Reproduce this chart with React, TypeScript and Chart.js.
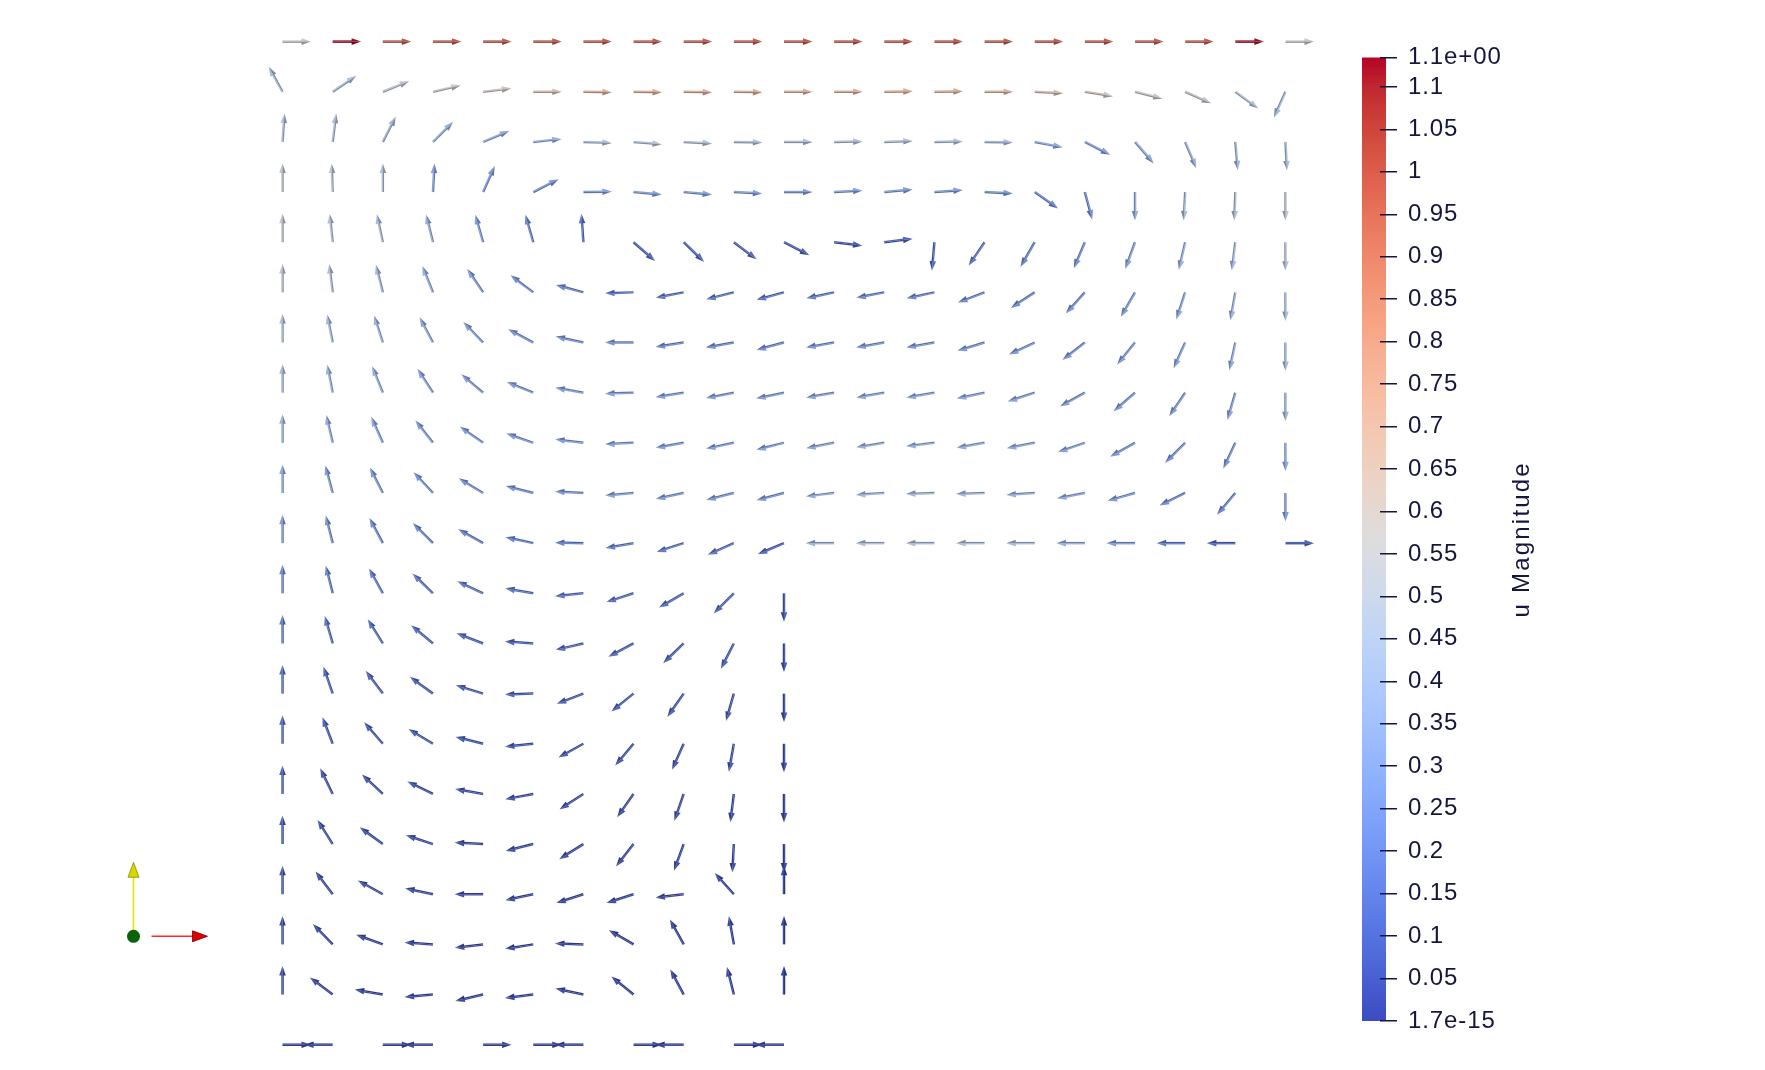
import React, { useEffect, useRef } from "react";
import { Chart, registerables } from "chart.js";

Chart.register(...registerables);

// ---- grid coordinates (physical) ----
const gridX = [0.0, 0.1, 0.2, 0.3, 0.4, 0.5, 0.6, 0.7, 0.8, 0.9, 1.0, 1.1, 1.2, 1.3, 1.4, 1.5, 1.6, 1.7, 1.8, 1.9, 2.0];
const gridY = [2.0, 1.9, 1.8, 1.7, 1.6, 1.5, 1.4, 1.3, 1.2, 1.1, 1.0, 0.9, 0.8, 0.7, 0.6, 0.5, 0.4, 0.3, 0.2, 0.1, 0.0];

// ---- glyph directions (degrees, counter-clockwise from +x), one list per grid row (top to bottom) ----
const angleRows: number[][] = [
  [0, 0, 0, 0, 0, 0, 0, 0, 0, 0, 0, 0, 0, 0, 0, 0, 0, 0, 0, 0, 0],
  [119, 34, 22, 13, 7, 0, -1, -1, -1, -1, 0, 0, 1, 1, 0, -3, -9, -14, -24, -36, 246],
  [86, 83, 63, 45, 23, 6, -2, -5, -3, -1, 0, 1, 2, 1, -1, -11, -27, -49, -67, -85, -87],
  [90, 92, 90, 87, 66, 27, 1, -5, -5, -3, 0, 3, 5, 4, -3, -35, -75, -90, -93, -92, -90],
  [90, 96, 102, 104, 106, 106, 94, -41, -44, -37, -27, -7, 7, 265, 236, 240, 247, 250, 257, 263, 270],
  [90, 97, 104, 112, 124, 143, 165, 182, 191, 194, 195, 192, 191, 192, 201, 213, 228, 240, 252, 260, 270],
  [90, 101, 108, 118, 134, 152, 168, 180, 189, 190, 195, 190, 190, 190, 197, 205, 218, 231, 246, 258, 270],
  [90, 101, 112, 123, 140, 158, 170, 182, 189, 191, 192, 190, 190, 190, 192, 198, 209, 221, 236, 254, 270],
  [90, 103, 114, 128, 145, 161, 173, 183, 190, 192, 194, 191, 189, 187, 190, 191, 199, 209, 225, 245, 270],
  [90, 105, 117, 133, 149, 166, 177, 185, 192, 194, 195, 187, 184, 182, 182, 184, 191, 196, 206, 230, 270],
  [90, 104, 118, 135, 151, 168, 179, 190, 198, 204, 203, 180, 180, 180, 180, 180, 180, 180, 180, 180, 0],
  [90, 104, 119, 136, 155, 170, 186, 198, 210, 225, 270],
  [90, 106, 122, 140, 159, 176, 193, 208, 224, 243, 270],
  [90, 109, 127, 144, 163, 182, 201, 219, 235, 254, 270],
  [90, 111, 131, 149, 166, 186, 209, 230, 246, 260, 270],
  [90, 116, 137, 154, 170, 191, 213, 235, 251, 263, 270],
  [90, 122, 144, 162, 177, 194, 212, 232, 250, 267, 270],
  [90, 127, 151, 168, 180, 192, 198, 198, 187, 132, 90],
  [90, 134, 160, 176, 187, 189, 178, 150, 119, 100, 90],
  [90, 143, 170, 185, 193, 187, 168, 141, 118, 104, 90],
  [0, 180, 0, 180, 0, 0, 180, 0, 180, 0, 180],
];

// ---- |u| at each grid point, same layout ----
const magnitudeRows: number[][] = [
  [0.55, 1.13, 1.0, 1.0, 1.0, 1.0, 1.0, 1.0, 1.0, 1.0, 1.0, 1.0, 1.0, 1.0, 1.0, 1.0, 1.0, 1.0, 1.0, 1.13, 0.55],
  [0.42, 0.45, 0.52, 0.56, 0.6, 0.65, 0.72, 0.72, 0.72, 0.72, 0.72, 0.72, 0.72, 0.72, 0.7, 0.65, 0.6, 0.57, 0.53, 0.48, 0.42],
  [0.45, 0.45, 0.4, 0.36, 0.34, 0.36, 0.44, 0.46, 0.46, 0.46, 0.46, 0.46, 0.46, 0.45, 0.42, 0.32, 0.28, 0.33, 0.37, 0.4, 0.44],
  [0.52, 0.5, 0.46, 0.3, 0.26, 0.25, 0.28, 0.28, 0.28, 0.28, 0.28, 0.28, 0.28, 0.27, 0.25, 0.2, 0.22, 0.36, 0.42, 0.46, 0.5],
  [0.52, 0.48, 0.44, 0.36, 0.28, 0.2, 0.14, 0.1, 0.1, 0.1, 0.08, 0.06, 0.08, 0.1, 0.16, 0.2, 0.24, 0.3, 0.36, 0.42, 0.48],
  [0.5, 0.46, 0.4, 0.35, 0.28, 0.24, 0.2, 0.16, 0.15, 0.15, 0.15, 0.18, 0.2, 0.2, 0.22, 0.22, 0.24, 0.28, 0.32, 0.38, 0.45],
  [0.46, 0.42, 0.38, 0.33, 0.28, 0.25, 0.25, 0.24, 0.22, 0.22, 0.22, 0.25, 0.26, 0.26, 0.26, 0.25, 0.25, 0.27, 0.3, 0.35, 0.42],
  [0.42, 0.38, 0.35, 0.3, 0.28, 0.27, 0.28, 0.29, 0.28, 0.28, 0.28, 0.3, 0.32, 0.32, 0.32, 0.3, 0.28, 0.27, 0.27, 0.3, 0.38],
  [0.38, 0.34, 0.3, 0.28, 0.27, 0.27, 0.28, 0.3, 0.28, 0.28, 0.28, 0.33, 0.36, 0.36, 0.35, 0.33, 0.3, 0.26, 0.24, 0.25, 0.33],
  [0.32, 0.28, 0.26, 0.25, 0.24, 0.24, 0.26, 0.3, 0.27, 0.26, 0.25, 0.35, 0.4, 0.42, 0.4, 0.36, 0.32, 0.27, 0.22, 0.2, 0.27],
  [0.27, 0.24, 0.22, 0.21, 0.2, 0.19, 0.19, 0.18, 0.16, 0.14, 0.1, 0.4, 0.45, 0.45, 0.45, 0.43, 0.35, 0.27, 0.17, 0.1, 0.08],
  [0.2, 0.18, 0.17, 0.16, 0.15, 0.14, 0.14, 0.13, 0.12, 0.1, 0.08],
  [0.16, 0.14, 0.13, 0.12, 0.11, 0.1, 0.1, 0.1, 0.09, 0.08, 0.06],
  [0.12, 0.1, 0.1, 0.09, 0.08, 0.08, 0.08, 0.08, 0.07, 0.06, 0.05],
  [0.1, 0.08, 0.07, 0.07, 0.06, 0.06, 0.06, 0.06, 0.05, 0.05, 0.04],
  [0.08, 0.06, 0.05, 0.05, 0.05, 0.04, 0.04, 0.04, 0.04, 0.03, 0.03],
  [0.06, 0.05, 0.04, 0.04, 0.03, 0.03, 0.03, 0.03, 0.03, 0.02, 0.02],
  [0.05, 0.04, 0.03, 0.03, 0.02, 0.02, 0.02, 0.02, 0.02, 0.01, 0.01],
  [0.04, 0.03, 0.02, 0.02, 0.02, 0.01, 0.01, 0.01, 0.01, 0.01, 0.01],
  [0.03, 0.02, 0.01, 0.01, 0.01, 0.01, 0.01, 0.01, 0.01, 0.01, 0.01],
  [0, 0, 0, 0, 0, 0, 0, 0, 0, 0, 0],
];

// ---- colour bar ----
const colorbarMin = 0;
const colorbarMax = 1.1346;
const colorbarTitle = "u Magnitude";
const colorbarTicks = [0, 0.05, 0.1, 0.15, 0.2, 0.25, 0.3, 0.35, 0.4, 0.45, 0.5, 0.55, 0.6, 0.65, 0.7, 0.75, 0.8, 0.85, 0.9, 0.95, 1.0, 1.05, 1.1, 1.1346];
const colorbarLabels = ["1.7e-15", "0.05", "0.1", "0.15", "0.2", "0.25", "0.3", "0.35", "0.4", "0.45", "0.5", "0.55", "0.6", "0.65", "0.7", "0.75", "0.8", "0.85", "0.9", "0.95", "1", "1.05", "1.1", "1.1e+00"];

// Cool to Warm (Moreland) colour map, 33 samples
const coolWarm: number[][] = [
  [59, 76, 192], [68, 90, 204], [77, 104, 215], [87, 117, 225], [98, 130, 234], [108, 142, 241], [119, 154, 247], [130, 165, 251],
  [141, 176, 254], [152, 185, 255], [163, 194, 255], [174, 201, 253], [184, 208, 249], [194, 213, 244], [204, 217, 238], [213, 219, 230],
  [221, 221, 221], [229, 216, 209], [236, 211, 197], [241, 204, 185], [245, 196, 173], [247, 187, 160], [247, 177, 148], [247, 166, 135],
  [244, 154, 123], [241, 141, 111], [236, 127, 99], [229, 112, 88], [222, 96, 77], [213, 80, 66], [203, 62, 56], [192, 40, 47], [180, 4, 38],
];

const TEXT_COLOR = "#15153d";

function mapColor(v: number): number[] {
  let t = (v - colorbarMin) / (colorbarMax - colorbarMin);
  t = Math.max(0, Math.min(1, t));
  const f = t * (coolWarm.length - 1);
  const i = Math.min(coolWarm.length - 2, Math.floor(f));
  const r = f - i;
  const a = coolWarm[i];
  const b = coolWarm[i + 1];
  return [a[0] + (b[0] - a[0]) * r, a[1] + (b[1] - a[1]) * r, a[2] + (b[2] - a[2]) * r];
}

// shaded colour: scale towards black and slightly towards grey (3D lighting look)
function shade(c: number[], k: number, desat: number): string {
  const g = (c[0] + c[1] + c[2]) / 3;
  const r = (c[0] * (1 - desat) + g * desat) * k;
  const gg = (c[1] * (1 - desat) + g * desat) * k;
  const b = (c[2] * (1 - desat) + g * desat) * k;
  return `rgb(${Math.round(r)},${Math.round(gg)},${Math.round(b)})`;
}

function rgbCss(c: number[]): string {
  return `rgb(${Math.round(c[0])},${Math.round(c[1])},${Math.round(c[2])})`;
}

type GlyphPoint = { x: number; y: number; angle: number; mag: number };

const glyphPoints: GlyphPoint[] = [];
angleRows.forEach((row, j) => {
  row.forEach((a, i) => {
    glyphPoints.push({ x: gridX[i], y: gridY[j], angle: a, mag: magnitudeRows[j][i] });
  });
});

function drawArrow(ctx: CanvasRenderingContext2D, x: number, y: number, angleDeg: number, rgb: number[]) {
  const L = 28.5;
  const hl = 9.5;
  const hw = 3.3;
  const sw = 1.25;
  ctx.save();
  ctx.translate(x, y);
  ctx.rotate((-angleDeg * Math.PI) / 180);
  const light = shade(rgb, 0.9, 0.1);
  const dark = shade(rgb, 0.66, 0.1);
  ctx.fillStyle = light;
  ctx.fillRect(0, -sw, L - hl + 0.5, sw);
  ctx.fillStyle = dark;
  ctx.fillRect(0, 0, L - hl + 0.5, sw);
  ctx.beginPath();
  ctx.moveTo(L, 0);
  ctx.lineTo(L - hl, -hw);
  ctx.lineTo(L - hl, 0);
  ctx.closePath();
  ctx.fillStyle = light;
  ctx.fill();
  ctx.beginPath();
  ctx.moveTo(L, 0);
  ctx.lineTo(L - hl, hw);
  ctx.lineTo(L - hl, 0);
  ctx.closePath();
  ctx.fillStyle = dark;
  ctx.fill();
  ctx.restore();
}

const glyphPlugin = {
  id: "glyphArrows",
  afterDatasetsDraw(chart: any) {
    const ctx = chart.ctx as CanvasRenderingContext2D;
    const meta = chart.getDatasetMeta(0);
    const data = chart.data.datasets[0].data as GlyphPoint[];
    meta.data.forEach((el: any, k: number) => {
      const p = data[k];
      drawArrow(ctx, el.x, el.y, p.angle, mapColor(p.mag));
    });
  },
};

// orientation triad (bottom-left decoration)
const triadPlugin = {
  id: "orientationTriad",
  afterDraw(chart: any) {
    const ctx = chart.ctx as CanvasRenderingContext2D;
    const cx = 133.5;
    const cy = 936.3;
    ctx.save();
    ctx.strokeStyle = "#e6e600";
    ctx.lineWidth = 1.6;
    ctx.beginPath();
    ctx.moveTo(cx, cy - 6);
    ctx.lineTo(cx, cy - 60);
    ctx.stroke();
    ctx.fillStyle = "#d8d800";
    ctx.beginPath();
    ctx.moveTo(cx, cy - 74);
    ctx.lineTo(cx - 5.5, cy - 59);
    ctx.lineTo(cx + 5.5, cy - 59);
    ctx.closePath();
    ctx.fill();
    ctx.strokeStyle = "#8a8a00";
    ctx.lineWidth = 0.8;
    ctx.stroke();
    ctx.strokeStyle = "#ff2a2a";
    ctx.lineWidth = 1.6;
    ctx.beginPath();
    ctx.moveTo(cx + 18, cy);
    ctx.lineTo(cx + 60, cy);
    ctx.stroke();
    ctx.fillStyle = "#e00000";
    ctx.beginPath();
    ctx.moveTo(cx + 74, cy);
    ctx.lineTo(cx + 59, cy - 5.5);
    ctx.lineTo(cx + 59, cy + 5.5);
    ctx.closePath();
    ctx.fill();
    ctx.strokeStyle = "#700000";
    ctx.lineWidth = 0.8;
    ctx.stroke();
    ctx.fillStyle = "#0b620b";
    ctx.beginPath();
    ctx.arc(cx, cy, 6.5, 0, Math.PI * 2);
    ctx.fill();
    ctx.restore();
  },
};

const colorbarPlugin = {
  id: "colorbarBar",
  beforeDatasetsDraw(chart: any) {
    const ctx = chart.ctx as CanvasRenderingContext2D;
    const ys = chart.scales.y;
    const area = chart.chartArea;
    const top = ys.getPixelForValue(colorbarMax);
    const bottom = ys.getPixelForValue(colorbarMin);
    const grad = ctx.createLinearGradient(0, bottom, 0, top);
    coolWarm.forEach((c, i) => grad.addColorStop(i / (coolWarm.length - 1), rgbCss(c)));
    ctx.save();
    ctx.fillStyle = grad;
    ctx.fillRect(area.left, top, area.right + 6 - area.left, bottom - top);
    ctx.restore();
  },
  afterDraw(chart: any) {
    const ctx = chart.ctx as CanvasRenderingContext2D;
    const ys = chart.scales.y;
    const top = ys.getPixelForValue(colorbarMax);
    const bottom = ys.getPixelForValue(colorbarMin);
    ctx.save();
    ctx.translate(ys.left + 142, (top + bottom) / 2);
    ctx.rotate(-Math.PI / 2);
    ctx.font = "24px 'Liberation Sans', Arial, sans-serif";
    (ctx as any).letterSpacing = "2.2px";
    ctx.fillStyle = TEXT_COLOR;
    ctx.textAlign = "center";
    ctx.textBaseline = "middle";
    ctx.fillText(colorbarTitle, 0, 0);
    ctx.restore();
  },
};

const letterSpacingPlugin = {
  id: "tickLetterSpacing",
  beforeDraw(chart: any) {
    (chart.ctx as any).letterSpacing = "0.9px";
  },
};

export default function App() {
  const fieldRef = useRef<HTMLCanvasElement | null>(null);
  const barRef = useRef<HTMLCanvasElement | null>(null);

  useEffect(() => {
    document.body.style.margin = "0";
    const field = new Chart(fieldRef.current as HTMLCanvasElement, {
      type: "scatter",
      data: {
        datasets: [
          {
            data: glyphPoints as any,
            pointRadius: 0,
            pointHoverRadius: 0,
            clip: false as any,
          },
        ],
      },
      options: {
        animation: false,
        responsive: false,
        devicePixelRatio: 1,
        events: [],
        layout: { padding: { left: 282.5, right: 479.5, top: 41.6, bottom: 25.3 } },
        scales: {
          x: { type: "linear", min: 0, max: 2, display: false },
          y: { type: "linear", min: 0, max: 2, display: false },
        },
        plugins: { legend: { display: false }, tooltip: { enabled: false } },
      },
      plugins: [glyphPlugin, triadPlugin],
    });

    const bar = new Chart(barRef.current as HTMLCanvasElement, {
      type: "scatter",
      data: { datasets: [] },
      options: {
        animation: false,
        responsive: false,
        devicePixelRatio: 1,
        events: [],
        layout: { padding: { left: 62, right: 235, top: 57.5, bottom: 49 } },
        scales: {
          x: { type: "linear", min: 0, max: 1, display: false },
          y: {
            type: "linear",
            position: "right",
            min: colorbarMin,
            max: colorbarMax,
            afterBuildTicks: (axis: any) => {
              axis.ticks = colorbarTicks.map((v) => ({ value: v }));
            },
            afterFit: (axis: any) => {
              axis.width = 150;
            },
            ticks: {
              autoSkip: false,
              padding: 11,
              color: TEXT_COLOR,
              font: { family: "'Liberation Sans', Arial, sans-serif", size: 24 },
              callback: (_v: any, idx: number) => colorbarLabels[idx],
            },
            grid: {
              display: true,
              drawOnChartArea: false,
              drawTicks: true,
              tickLength: 17,
              color: TEXT_COLOR,
              lineWidth: 1.5,
              z: 1,
            },
            border: { display: false },
          } as any,
        },
        plugins: { legend: { display: false }, tooltip: { enabled: false } },
      },
      plugins: [letterSpacingPlugin, colorbarPlugin],
    });

    return () => {
      field.destroy();
      bar.destroy();
    };
  }, []);

  return (
    <div style={{ position: "fixed", left: 0, top: 0, width: 1765, height: 1070, background: "#ffffff", overflow: "hidden" }}>
      <canvas ref={fieldRef} width={1765} height={1070} style={{ position: "absolute", left: 0, top: 0, width: 1765, height: 1070 }} />
      <canvas ref={barRef} width={465} height={1070} style={{ position: "absolute", left: 1300, top: 0, width: 465, height: 1070 }} />
    </div>
  );
}
